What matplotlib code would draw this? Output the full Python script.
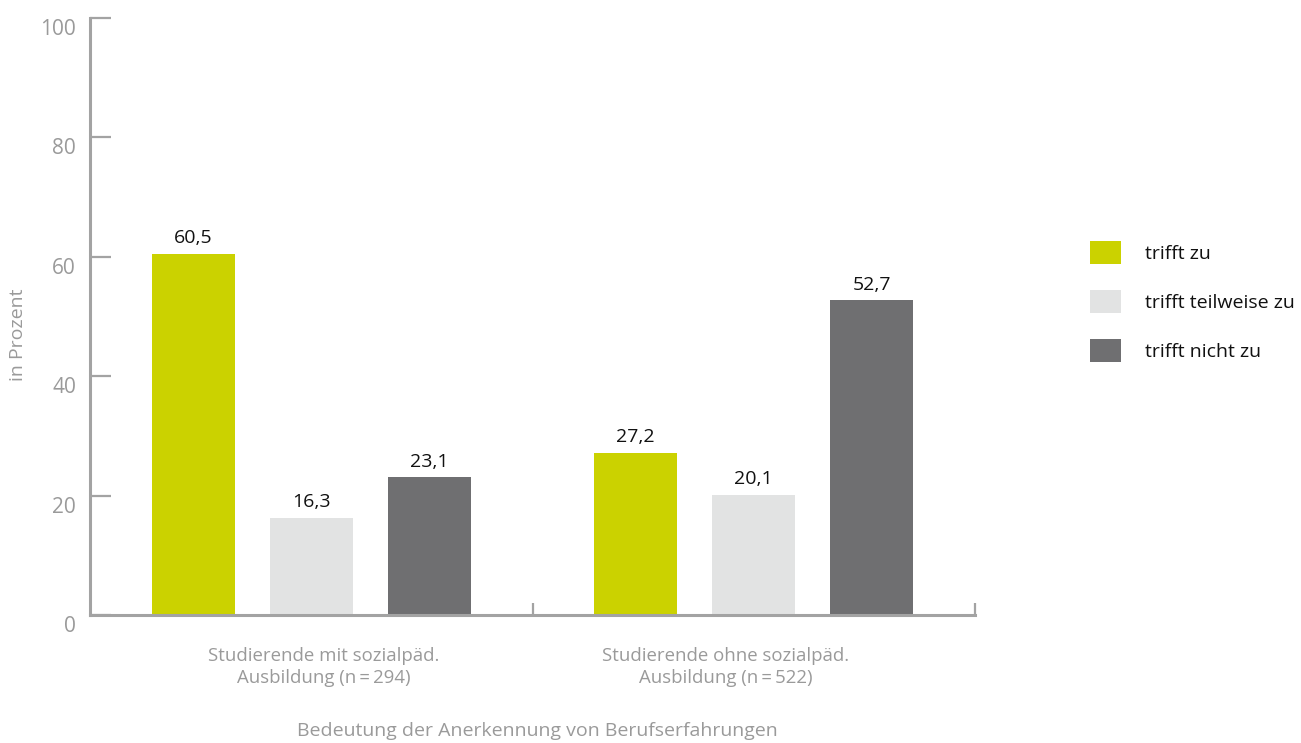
import numpy as np
import matplotlib
matplotlib.use("Agg")
from matplotlib import pyplot as plt
from matplotlib.patches import Patch
import matplotlib.transforms as mtransforms

plt.rcParams['font.family'] = ['Open Sans', 'DejaVu Sans']

# Anerkennung von Berufserfahrungen, Anteile in Prozent
groups = ["Studierende mit sozialpäd.\nAusbildung (n\u2009=\u2009294)",
          "Studierende ohne sozialpäd.\nAusbildung (n\u2009=\u2009522)"]
answers = ["trifft zu", "trifft teilweise zu", "trifft nicht zu"]
trifft_zu = [60.5, 27.2]
teilweise = [16.3, 20.1]
nicht_zu = [23.1, 52.7]
yticks = [0, 20, 40, 60, 80, 100]

colors = ["#cbd200", "#e2e3e3", "#6f6f71"]
axis_gray = "#a3a3a3"
text_gray = "#9a9a9a"

fig = plt.figure(figsize=(13.01, 7.43), dpi=100)
ax = fig.add_axes([90 / 1301, 1 - 615 / 743, 885 / 1301, 597 / 743])

centers = np.array([0.5, 1.5])
offset = 0.2667
width = 0.188
series = [trifft_zu, teilweise, nicht_zu]
for i, (vals, col) in enumerate(zip(series, colors)):
    xs = centers + (i - 1) * offset
    ax.bar(xs, vals, width=width, color=col, zorder=2)
    for x, v in zip(xs, vals):
        ax.text(x, v + 1.1, f"{v:.1f}".replace(".", ","), ha="center",
                va="bottom", fontsize=14, color="#111111")

ax.set_xlim(0, 2)
ax.set_ylim(0, 100)
for s in ["top", "right"]:
    ax.spines[s].set_visible(False)
for s in ["left", "bottom"]:
    ax.spines[s].set_color(axis_gray)
    ax.spines[s].set_linewidth(2.2)

ax.set_yticks(yticks)
ax.set_yticklabels([str(t) for t in yticks])
ax.tick_params(axis="y", direction="in", length=15, width=1.6, color=axis_gray,
               labelcolor=text_gray, labelsize=15, pad=10)
# tick labels sit a little below their ticks
shift = mtransforms.ScaledTranslation(0, -9 / 100, fig.dpi_scale_trans)
for lbl in ax.get_yticklabels():
    lbl.set_transform(lbl.get_transform() + shift)

ax.set_xticks([1, 2])
ax.set_xticklabels([])
ax.tick_params(axis="x", direction="in", length=9, width=1.6, color=axis_gray)

label_pos = [0.529, 1.437]
for x, g in zip(label_pos, groups):
    ax.text(x, -5.3, g, ha="center", va="top", fontsize=13.4,
            color=text_gray, linespacing=1.3)

fig.text(537 / 1301, 1 - 731 / 743, "Bedeutung der Anerkennung von Berufserfahrungen",
         ha="center", va="center", fontsize=14, color=text_gray)
fig.text(18 / 1301, 1 - 335 / 743, "in Prozent", rotation=90, ha="center",
         va="center", fontsize=14, color=text_gray)

handles = [Patch(facecolor=c, edgecolor="none") for c in colors]
fig.legend(handles, answers, loc="upper left", bbox_to_anchor=(1072 / 1301, 1 - 223 / 743),
           frameon=False, fontsize=14, labelcolor="#111111",
           handlelength=1.6, handleheight=1.5, handletextpad=1.24, labelspacing=1.3)

fig.savefig("out.png", dpi=100)
